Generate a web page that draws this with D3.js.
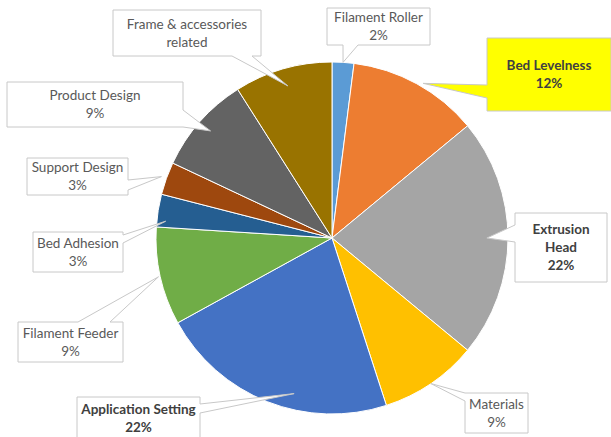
<!DOCTYPE html>
<html>
<head>
<meta charset="utf-8">
<script src="https://cdn.jsdelivr.net/npm/d3@7"></script>
<style>
  body { margin: 0; background: #fff; }
  svg { display: block; }
</style>
</head>
<body>
<script>
// chart data
var categories = ["Filament Roller", "Bed Levelness", "Extrusion Head", "Materials",
                  "Application Setting", "Filament Feeder", "Bed Adhesion",
                  "Support Design", "Product Design", "Frame & accessories related"];
var values = [2, 12, 22, 9, 22, 9, 3, 3, 9, 9];
var labelLines = [["Filament Roller", "2%"], ["Bed Levelness", "12%"], ["Extrusion", "Head", "22%"],
                  ["Materials", "9%"], ["Application Setting", "22%"], ["Filament Feeder", "9%"],
                  ["Bed Adhesion", "3%"], ["Support Design", "3%"], ["Product Design", "9%"],
                  ["Frame & accessories", "related"]];
var colors = ["#5b9bd5", "#ed7d31", "#a5a5a5", "#ffc000", "#4472c4",
              "#70ad47", "#255e91", "#9e480e", "#636363", "#997300"];

// callout boxes (layout only); k = tip radius factor, f = tip position along the slice
var callouts = [
  {x: 327, y: 8,   w: 103, h: 37, side: "bottom", b: [343, 358], k: 1.0,  f: 0.5},
  {x: 487, y: 38,  w: 124, h: 73, side: "left",   b: [85, 98],   k: 1.02, f: 0.54, fill: "#ffff00", bold: true},
  {x: 515, y: 213, w: 92,  h: 69, side: "left",   b: [225, 242], k: 0.88, f: 0.5, bold: true},
  {x: 465, y: 393, w: 63,  h: 40, side: "left",   b: [393, 401], k: 1.0,  f: 0.5},
  {x: 77,  y: 397, w: 123, h: 42, side: "right",  b: [404, 413], k: 0.91, f: 0.4, bold: true},
  {x: 18,  y: 322, w: 105, h: 40, side: "top",    b: [78, 110],  k: 1.01, f: 0.5},
  {x: 33,  y: 232, w: 90,  h: 40, side: "right",  b: [235, 243], k: 0.95, f: 0.2},
  {x: 27,  y: 158, w: 101, h: 37, side: "right",  b: [180, 190], k: 1.03, f: 0.5},
  {x: 7,   y: 82,  w: 176, h: 45, side: "right",  b: [110, 127], k: 0.92, f: 0.5},
  {x: 113, y: 10,  w: 148, h: 46, side: "bottom", b: [232, 252], k: 0.9,  f: 0.5}
];

var width = 611, height = 437;
var cx = 332, cy = 238, radius = 176;

var svg = d3.select("body").append("svg")
    .attr("width", width)
    .attr("height", height);

svg.append("rect").attr("width", width).attr("height", height).attr("fill", "#fff");

var pie = d3.pie().sort(null).value(function(d){ return d; });
var arcs = pie(values);

var arc = d3.arc().innerRadius(0).outerRadius(radius);

var g = svg.append("g").attr("transform", "translate(" + cx + "," + cy + ")");

g.selectAll(".slice")
    .data(arcs)
    .enter()
    .append("path")
    .attr("class", "slice")
    .attr("d", arc)
    .attr("fill", function(d, i){ return colors[i]; })
    .attr("stroke", "#fff")
    .attr("stroke-width", 1);

// build a callout shape: box with a pointer to the tip
function calloutPath(c, tip){
    var x0 = c.x, y0 = c.y, x1 = c.x + c.w, y1 = c.y + c.h;
    var p = [];
    if (c.side == "bottom") {
        p = [[x0,y0],[x1,y0],[x1,y1],[c.b[1],y1],tip,[c.b[0],y1],[x0,y1]];
    } else if (c.side == "top") {
        p = [[x0,y0],[c.b[0],y0],tip,[c.b[1],y0],[x1,y0],[x1,y1],[x0,y1]];
    } else if (c.side == "left") {
        p = [[x0,y0],[x1,y0],[x1,y1],[x0,y1],[x0,c.b[1]],tip,[x0,c.b[0]]];
    } else {
        p = [[x0,y0],[x1,y0],[x1,c.b[0]],tip,[x1,c.b[1]],[x1,y1],[x0,y1]];
    }
    return "M" + p.map(function(q){ return q[0] + "," + q[1]; }).join("L") + "Z";
}

var labels = svg.selectAll(".callout")
    .data(arcs)
    .enter()
    .append("g")
    .attr("class", "callout");

labels.append("path")
    .attr("d", function(d, i){
        var c = callouts[i];
        var r = radius * c.k;
        var a = d.startAngle + c.f * (d.endAngle - d.startAngle);
        var t = d3.arc().innerRadius(r).outerRadius(r).centroid({startAngle: a, endAngle: a});
        return calloutPath(c, [cx + t[0], cy + t[1]]);
    })
    .attr("fill", function(d, i){ return callouts[i].fill || "#fff"; })
    .attr("stroke", "#c8c8c8")
    .attr("stroke-width", 1);

labels.each(function(d, i){
    var c = callouts[i];
    var lines = labelLines[i];
    var lh = 18;
    var top = c.y + c.h / 2 - (lines.length - 1) * lh / 2;
    d3.select(this).selectAll("text")
        .data(lines)
        .enter()
        .append("text")
        .attr("x", c.x + c.w / 2)
        .attr("y", function(t, j){ return top + j * lh; })
        .attr("dy", "0.35em")
        .attr("text-anchor", "middle")
        .attr("font-family", "Lato, 'Open Sans', sans-serif")
        .attr("font-size", "13.5px")
        .attr("font-weight", c.bold ? "bold" : "normal")
        .attr("fill", c.bold ? "#404040" : "#595959")
        .text(function(t){ return t; });
});
</script>
</body>
</html>
